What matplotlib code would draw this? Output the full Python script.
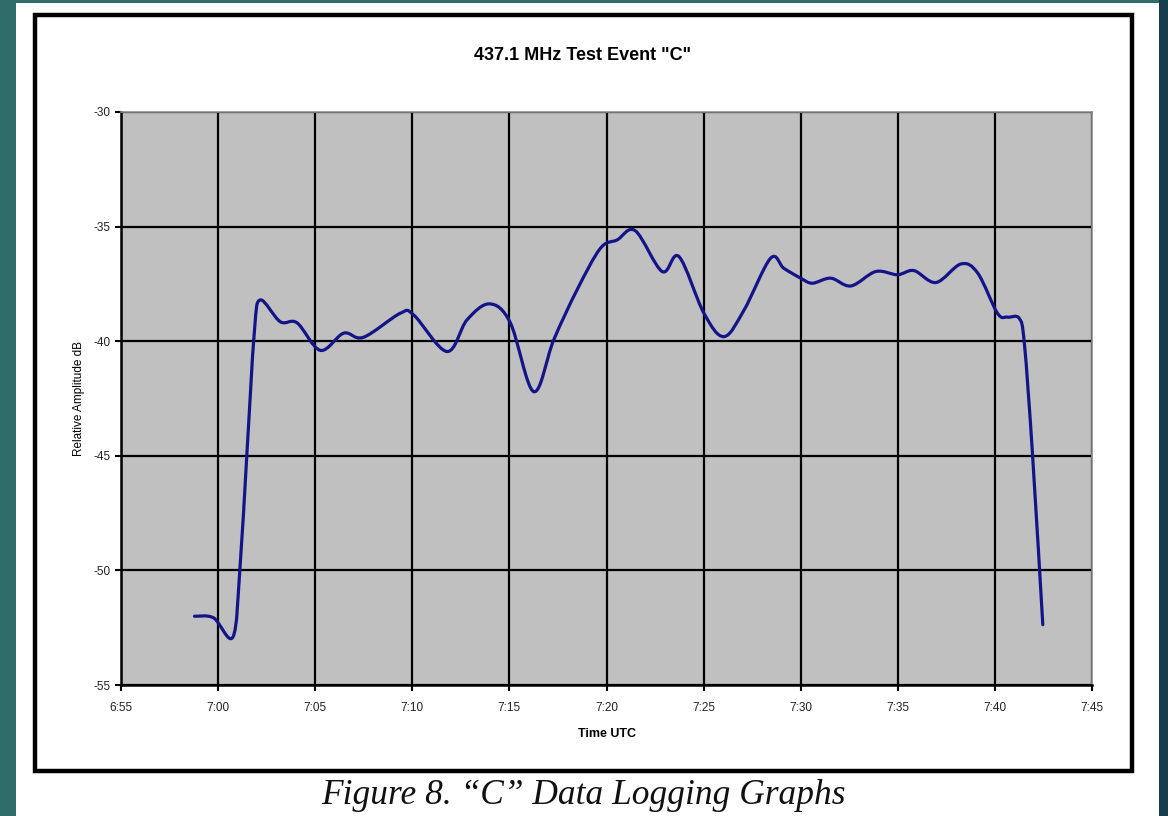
import matplotlib.pyplot as plt
from matplotlib.patches import Rectangle, PathPatch
from matplotlib.path import Path

plt.rcParams['axes.unicode_minus'] = False

# Logged samples: time (h:mm:ss UTC) and relative amplitude (dB)
times = ["6:58:47", "6:59:46", "7:00:46", "7:01:08", "7:01:29", "7:01:52", "7:02:10",
         "7:03:12", "7:04:04", "7:05:16", "7:06:28", "7:07:29", "7:09:23", "7:10:04",
         "7:11:47", "7:12:49", "7:13:59", "7:15:03", "7:16:15", "7:17:17", "7:18:29",
         "7:19:41", "7:20:33", "7:21:29", "7:22:52", "7:23:44", "7:25:01", "7:26:03",
         "7:27:05", "7:28:27", "7:29:08", "7:30:00", "7:30:36", "7:31:33", "7:32:35",
         "7:33:52", "7:34:59", "7:35:50", "7:36:58", "7:38:15", "7:39:07", "7:40:08",
         "7:40:39", "7:41:15", "7:41:31", "7:41:56", "7:42:28"]
amplitude = [-52.0, -52.07, -52.9, -49.8, -44.9, -39.6, -38.2,
             -39.15, -39.2, -40.4, -39.65, -39.83, -38.78, -38.85,
             -40.45, -39.07, -38.37, -39.2, -42.2, -39.94, -37.76,
             -35.95, -35.58, -35.18, -36.96, -36.31, -38.78, -39.8,
             -38.64, -36.38, -36.82, -37.25, -37.47, -37.25, -37.59,
             -36.96, -37.1, -36.92, -37.44, -36.63, -37.03, -38.78,
             -38.95, -39.0, -40.09, -44.89, -52.37]

tick_labels = ["6:55", "7:00", "7:05", "7:10", "7:15", "7:20", "7:25",
               "7:30", "7:35", "7:40", "7:45"]
y_ticks = [-30, -35, -40, -45, -50, -55]


def to_minutes(s):
    parts = [int(p) for p in s.split(":")]
    while len(parts) < 3:
        parts.append(0)
    h, m, sec = parts
    return h * 60 + m + sec / 60.0


def smooth_path(xs, ys):
    # Excel-style smoothed line: cubic Bezier segments through every point
    pts = list(zip(xs, ys))
    n = len(pts)
    verts = [pts[0]]
    codes = [Path.MOVETO]
    for i in range(n - 1):
        p0 = pts[i - 1] if i > 0 else pts[i]
        p1 = pts[i]
        p2 = pts[i + 1]
        p3 = pts[i + 2] if i + 2 < n else pts[i + 1]
        c1 = (p1[0] + (p2[0] - p0[0]) / 6, p1[1] + (p2[1] - p0[1]) / 6)
        c2 = (p2[0] - (p3[0] - p1[0]) / 6, p2[1] - (p3[1] - p1[1]) / 6)
        verts += [c1, c2, p2]
        codes += [Path.CURVE4] * 3
    return Path(verts, codes)


x = [to_minutes(t) for t in times]
x_ticks = [to_minutes(t) for t in tick_labels]

fig = plt.figure(figsize=(11.68, 8.16), dpi=100)
fig.patch.set_facecolor("#2e6d69")

# page background and dark strip on the right
fig.patches.append(Rectangle((1159 / 1168, 0), 1 - 1159 / 1168, 1, transform=fig.transFigure,
                             facecolor="#173d4d", edgecolor="none", zorder=0))
fig.patches.append(Rectangle((16 / 1168, 0), (1159 - 16) / 1168, 1 - 3 / 816,
                             transform=fig.transFigure, facecolor="white",
                             edgecolor="none", zorder=1))
# chart frame
fig.patches.append(Rectangle((35 / 1168, 1 - 771 / 816), (1132 - 35) / 1168, (771 - 15) / 816,
                             transform=fig.transFigure, facecolor="none",
                             edgecolor="black", linewidth=3.2, zorder=2))

ax = fig.add_axes([121 / 1168, 1 - 685 / 816, (1092 - 121) / 1168, (685 - 112) / 816])
ax.set_zorder(5)
ax.set_facecolor("#c0c0c0")
ax.add_patch(PathPatch(smooth_path(x, amplitude), facecolor="none", edgecolor="#14148a",
                       linewidth=2.3, capstyle="round", joinstyle="round", zorder=3))

ax.set_xlim(x_ticks[0], x_ticks[-1])
ax.set_ylim(-55, -30)
ax.set_xticks(x_ticks)
ax.set_xticklabels(tick_labels)
ax.set_yticks(y_ticks)
ax.grid(True, color="black", linewidth=1.6)
ax.set_axisbelow(True)

for side in ["top", "right"]:
    ax.spines[side].set_color("#8c8c8c")
    ax.spines[side].set_linewidth(1.2)
for side in ["left", "bottom"]:
    ax.spines[side].set_color("black")
    ax.spines[side].set_linewidth(1.8)

ax.tick_params(direction="out", length=4, width=1.5, colors="black",
               labelsize=8.5, labelcolor="#222222")
ax.tick_params(axis="x", pad=8)
for lbl in ax.get_xticklabels() + ax.get_yticklabels():
    lbl.set_fontfamily("Liberation Sans")

ax.set_xlabel("Time UTC", fontsize=9, fontweight="bold", family="Liberation Sans", labelpad=10)
ax.set_ylabel("Relative Amplitude dB", fontsize=8.5, family="Liberation Sans", labelpad=6)

fig.text(583 / 1168, 1 - 56 / 816, '437.1 MHz Test Event "C"', ha="center", va="center",
         fontsize=13, fontweight="bold", family="Liberation Sans")

fig.text(583 / 1168, 1 - 795 / 816, "Figure 8. \u201cC\u201d Data Logging Graphs",
         ha="center", va="center", fontsize=25.5, style="italic",
         family="Liberation Serif", color="#111111")

fig.savefig("out.png", dpi=100, facecolor=fig.get_facecolor())
